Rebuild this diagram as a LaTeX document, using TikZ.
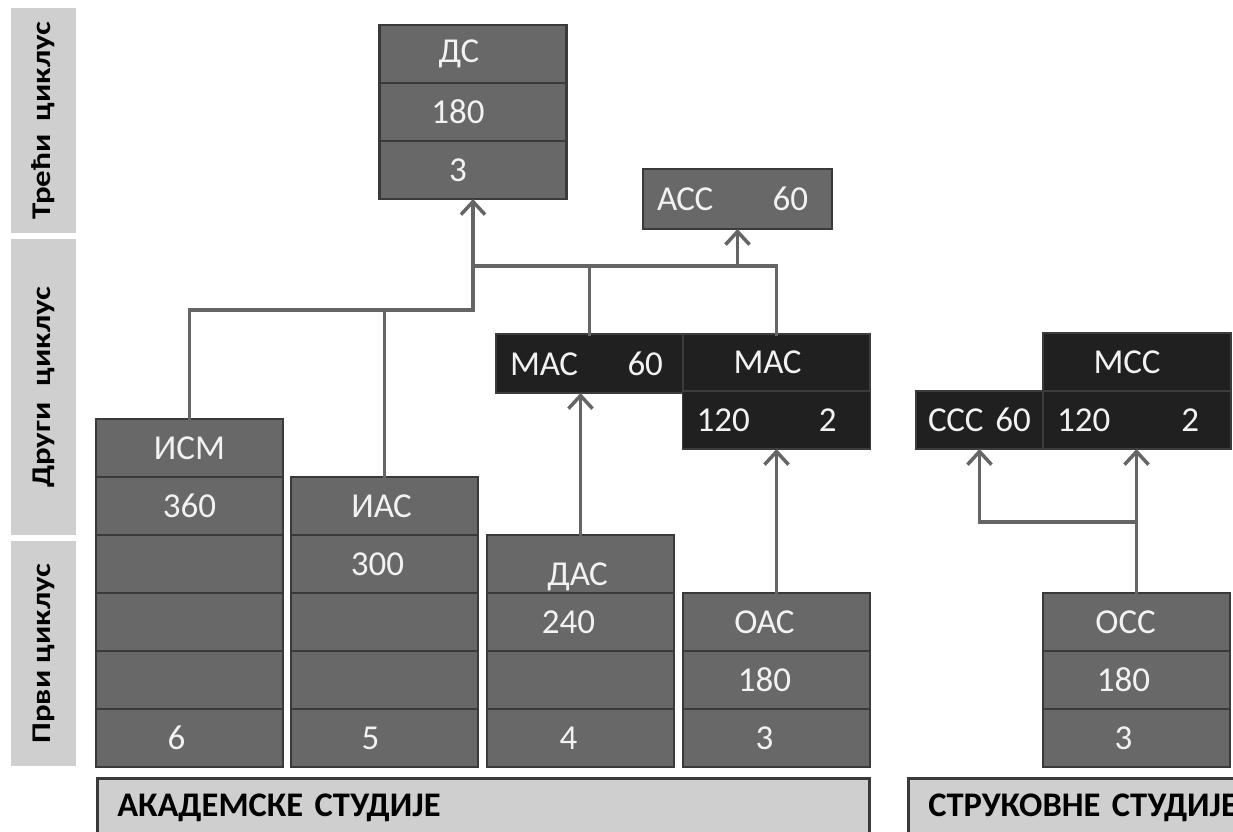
\documentclass[tikz,border=0pt]{standalone}
\usepackage{fontspec}
\setmainfont{Carlito}
\usepackage{tikz}
\usetikzlibrary{arrows.meta, positioning}

\definecolor{zelle}{HTML}{686868}
\definecolor{rand}{HTML}{3A3A3A}
\definecolor{dunkel}{HTML}{202020}
\definecolor{dunkelrand}{HTML}{3C3C3C}
\definecolor{hell}{HTML}{CFCFCF}
\definecolor{linie}{HTML}{656565}
\definecolor{schrift}{HTML}{F2F2F2}

\tikzset{
  cell/.style={draw=rand, line width=2.5pt, fill=zelle, text=schrift,
    minimum width=187pt, minimum height=58pt, inner sep=0pt, outer sep=0pt,
    font=\fontsize{35}{40}\selectfont},
  darkcell/.style={cell, draw=dunkelrand, fill=dunkel, line width=1.5pt},
  split/.style={inner xsep=14pt, text width=#1, align=left},
  shl/.style={text width=180pt, align=center, execute at begin node={\hspace*{-#1}}},
  side/.style={fill=hell, text=black, inner sep=0pt, rotate=90,
    minimum height=65pt, font=\bfseries\fontsize{27}{30}\selectfont},
  bar/.style={draw=rand, line width=2.5pt, fill=hell, text=black, anchor=north west,
    inner xsep=20pt, inner ysep=0pt, text height=26pt, text depth=20pt,
    minimum height=70pt, align=left, font=\bfseries\fontsize{34.5}{40}\selectfont},
  conn/.style={draw=linie, line width=3.5pt, line cap=rect},
  arr/.style={conn, -{Straight Barb[length=13pt, width=24pt]}}
}

\begin{document}
\begin{tikzpicture}[x=1pt, y=-1pt]
  \useasboundingbox (0,0) rectangle (1233,831);
  \clip (0,0) rectangle (1233,831);
  % Zyklen
  \node[side, minimum width=225pt] (c3) at (43.5,120.5) {\scalebox{1.22}[1]{Трећи\hspace{0.4em}циклус}};
  \node[side, minimum width=296pt] (c2) at (43.5,387) {\scalebox{1.22}[1]{Други\hspace{0.5em}циклус}};
  \node[side, minimum width=225pt] (c1) at (43.5,653.5) {\scalebox{1.22}[1]{Први циклус}};
  % akademske Spalten
  \node[cell, anchor=north west] (ism) at (96,419) {ИСМ};
  \node[cell, below=0pt of ism] (ism2) {360};
  \node[cell, below=0pt of ism2] (ism3) {};
  \node[cell, below=0pt of ism3] (ism4) {};
  \node[cell, below=0pt of ism4] (ism5) {};
  \node[cell, below=0pt of ism5, shl=26pt] (ism6) {6};
  \node[cell, anchor=north west, shl=6pt] (ias) at (291,477) {ИАС};
  \node[cell, below=0pt of ias, shl=14pt] (ias2) {300};
  \node[cell, below=0pt of ias2] (ias3) {};
  \node[cell, below=0pt of ias3] (ias4) {};
  \node[cell, below=0pt of ias4, shl=28pt] (ias5) {5};
  \node[cell, anchor=north west, shl=6pt, text height=48pt, text depth=5pt] (das) at (487,535) {ДАС};
  \node[cell, below=0pt of das, shl=24pt] (das2) {240};
  \node[cell, below=0pt of das2] (das3) {};
  \node[cell, below=0pt of das3, shl=24pt] (das4) {4};
  \node[cell, anchor=north west, shl=24pt] (oas) at (683,593) {ОАС};
  \node[cell, below=0pt of oas, shl=24pt] (oas2) {180};
  \node[cell, below=0pt of oas2, shl=24pt] (oas3) {3};
  % Master und Doktor
  \node[darkcell, anchor=north west, split=159pt, minimum height=59pt] (mas1) at (496,334) {МАС\hfill 60\hspace*{6pt}};
  \node[darkcell, anchor=north west, minimum height=57pt, shl=18pt] (mas2) at (683,334) {МАС};
  \node[darkcell, below=0pt of mas2, split=160pt] (mas2b) {120\hfill 2\hspace*{20pt}};
  \node[cell, anchor=north west, split=161pt, minimum height=60pt] (acc) at (643,169) {АСС\hfill 60\hspace*{10pt}};
  \node[cell, anchor=north, shl=28pt] (ds) at (473,25) {ДС};
  \node[cell, below=0pt of ds, shl=30pt] (ds2) {180};
  \node[cell, below=0pt of ds2, shl=30pt] (ds3) {3};
  % strukovne Spalten
  \node[darkcell, anchor=north west, split=103pt, inner xsep=12pt, minimum width=127pt] (ccc) at (916,391) {ССС\hfill 60};
  \node[darkcell, anchor=north west, minimum width=188pt, shl=20pt] (mcc) at (1043,333) {МСС};
  \node[darkcell, below=0pt of mcc, split=160pt] (mccb) {120\hfill 2\hspace*{18pt}};
  \node[cell, anchor=north west, shl=22pt] (oss) at (1043,593) {ОСС};
  \node[cell, below=0pt of oss, shl=26pt] (oss2) {180};
  \node[cell, below=0pt of oss2, shl=26pt] (oss3) {3};
  % Balken
  \node[bar, text width=732pt] (akad) at (96,777) {АКАДЕМСКЕ СТУДИЈЕ};
  \node[bar, text width=360pt] (struk) at (907,777) {СТРУКОВНЕ СТУДИЈЕ};
  % Verbindungen
  \coordinate (lowbus) at (0,310);
  \coordinate (highbus) at (0,266);
  \coordinate (ossfork) at (0,522);
  \draw[conn] (ism.north) |- (ds3.south |- lowbus);
  \draw[conn] (ias.north) -- (ias.north |- lowbus);
  \draw[arr] (ds3.south |- lowbus) -- (ds3.south);
  \draw[conn] (ds3.south |- highbus) -| (mas2.north);
  \draw[conn] (mas1.north) -- (mas1.north |- highbus);
  \draw[arr] (acc.south |- highbus) -- (acc.south);
  \draw[arr] (das.north) -- (das.north |- mas1.south);
  \draw[arr] (oas.north) -- (oas.north |- mas2b.south);
  \draw[arr] (oss.north) -- (oss.north |- mccb.south);
  \draw[arr] (oss.north |- ossfork) -| (ccc.south);
\end{tikzpicture}
\end{document}
